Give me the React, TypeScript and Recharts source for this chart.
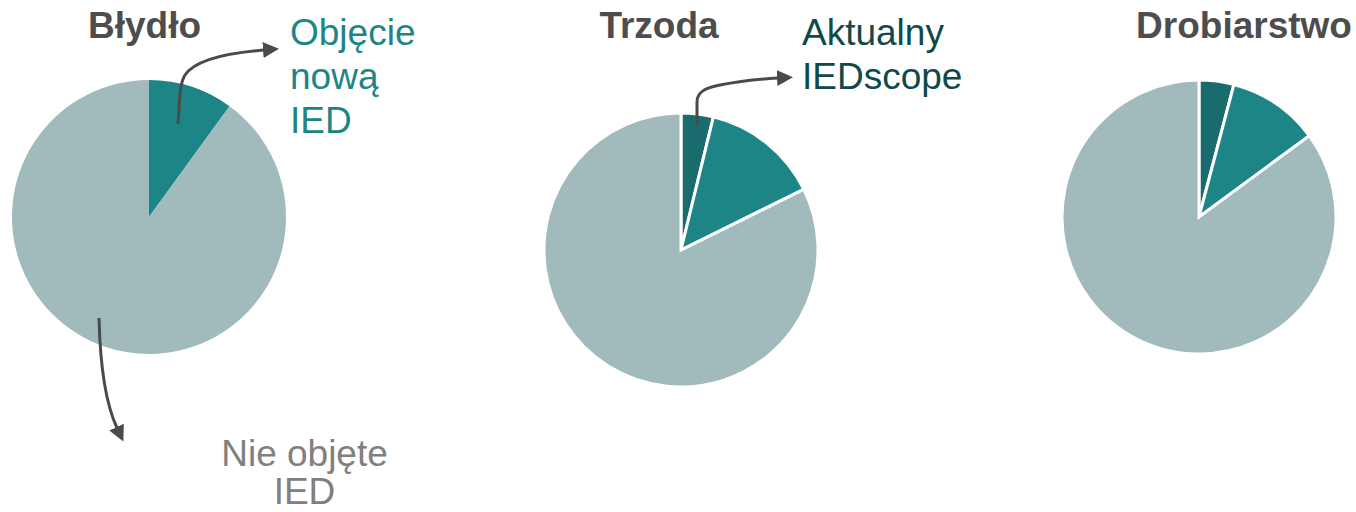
import React from "react";
import { PieChart, Pie, Cell } from "recharts";

const W = 1356;
const H = 512;

const categories = ["Aktualny IEDscope", "Objęcie nową IED", "Nie objęte IED"];
const titles = ["Błydło", "Trzoda", "Drobiarstwo"];
const bydloValues = [0, 10, 90];
const trzodaValues = [3.8, 13.9, 82.3];
const drobiarstwoValues = [4.1, 10.8, 85.1];

const COLORS = ["#1a6b6d", "#1e8587", "#a1babc"];

const toData = (vals: number[]) =>
  categories
    .map((name, i) => ({ name, value: vals[i], color: COLORS[i] }))
    .filter((d) => d.value > 0);

const FONT = "'Liberation Sans', Arial, sans-serif";

export default function App() {
  const pies = [
    { data: toData(bydloValues), cx: 149, cy: 217, stroke: "none", sw: 0 },
    { data: toData(trzodaValues), cx: 681, cy: 250, stroke: "#ffffff", sw: 3 },
    { data: toData(drobiarstwoValues), cx: 1199, cy: 217, stroke: "#ffffff", sw: 3 },
  ];
  return (
    <div style={{ position: "absolute", left: 0, top: 0, width: W, height: H, background: "#fff" }}>
      <PieChart width={W} height={H} margin={{ top: 0, right: 0, bottom: 0, left: 0 }}>
        {pies.map((p, k) => (
          <Pie
            key={k}
            data={p.data}
            dataKey="value"
            nameKey="name"
            cx={p.cx}
            cy={p.cy}
            outerRadius={137}
            innerRadius={0}
            startAngle={90}
            endAngle={-270}
            stroke={p.stroke}
            strokeWidth={p.sw}
            isAnimationActive={false}
            label={false}
            labelLine={false}
          >
            {p.data.map((d, i) => (
              <Cell key={i} fill={d.color} />
            ))}
          </Pie>
        ))}
      </PieChart>
      <svg
        width={W}
        height={H}
        style={{ position: "absolute", left: 0, top: 0, pointerEvents: "none" }}
      >
        <defs>
          <marker
            id="arr"
            markerUnits="userSpaceOnUse"
            markerWidth={18}
            markerHeight={18}
            refX={1}
            refY={8}
            orient="auto"
          >
            <path d="M0,0 L16,8 L0,16 z" fill="#4a4a4a" />
          </marker>
        </defs>
        <g fontFamily={FONT}>
          <text x={144.5} y={38} textAnchor="middle" fontSize={37} fontWeight="bold" fill="#4d4d4d">
            {titles[0]}
          </text>
          <text x={659} y={38} textAnchor="middle" fontSize={37} fontWeight="bold" fill="#4d4d4d">
            {titles[1]}
          </text>
          <text x={1244} y={38} textAnchor="middle" fontSize={37} fontWeight="bold" fill="#4d4d4d">
            {titles[2]}
          </text>
          <text fontSize={37} fill="#1e8587">
            <tspan x={290} y={45}>Objęcie</tspan>
            <tspan x={290} y={89}>nową</tspan>
            <tspan x={290} y={133}>IED</tspan>
          </text>
          <text fontSize={37} fill="#0f4a4a">
            <tspan x={802} y={45}>Aktualny</tspan>
            <tspan x={802} y={89}>IEDscope</tspan>
          </text>
          <text fontSize={37} fill="#808080" textAnchor="middle">
            <tspan x={304.5} y={466}>Nie objęte</tspan>
            <tspan x={304.5} y={504}>IED</tspan>
          </text>
        </g>
        <g fill="none" stroke="#4a4a4a" strokeWidth={3}>
          <path d="M178,124 C180,100 179,85 185,75 C195,60 225,53 264,50" markerEnd="url(#arr)" />
          <path d="M697,125 L697,102 C697,92 705,88 720,85 C740,81 760,79 778,78" markerEnd="url(#arr)" />
          <path d="M99,318 C100,360 104,400 117,428" markerEnd="url(#arr)" />
        </g>
      </svg>
    </div>
  );
}
